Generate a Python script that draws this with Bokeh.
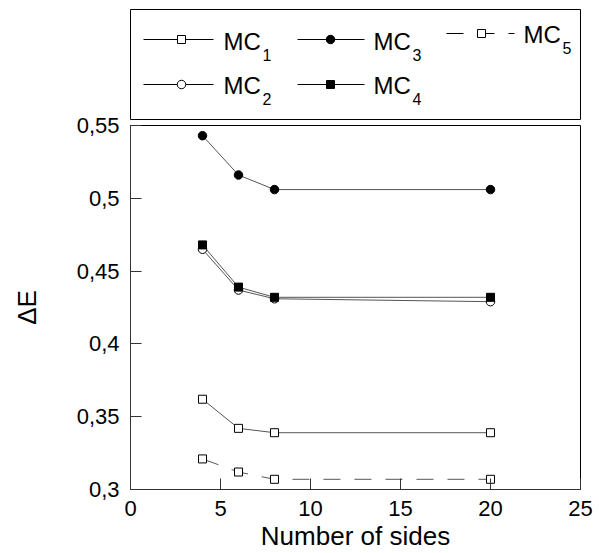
from bokeh.plotting import figure
from bokeh.models import Range1d, FixedTicker
from bokeh.layouts import column
from bokeh.core.properties import value
from bokeh.embed import file_html
from bokeh.resources import INLINE

# ---- data ----
sides = [4, 6, 8, 20]
mc1 = [0.362, 0.342, 0.339, 0.339]
mc2 = [0.465, 0.437, 0.431, 0.429]
mc3 = [0.543, 0.516, 0.506, 0.506]
mc4 = [0.468, 0.439, 0.432, 0.432]
mc5 = [0.321, 0.312, 0.307, 0.307]

series_prefix = "MC"
series_index = ["1", "2", "3", "4", "5"]

x_ticks = [0, 5, 10, 15, 20, 25]
x_tick_labels = ["0", "5", "10", "15", "20", "25"]
y_ticks = [0.3, 0.35, 0.4, 0.45, 0.5, 0.55]
y_tick_labels = ["0,3", "0,35", "0,4", "0,45", "0,5", "0,55"]

x_title = "Number of sides"
y_title = "\u0394E"

FONT = "Liberation Sans"
LINE = "#555555"

series = [
    (mc1, "square", "white", "solid"),
    (mc2, "circle", "white", "solid"),
    (mc3, "circle", "black", "solid"),
    (mc4, "square", "black", "solid"),
    (mc5, "square", "white", "17 14"),
]
msize = {"square": 8, "circle": 8.5}

# ---- main plot ----
p = figure(width=599, height=443, x_range=Range1d(0, 25), y_range=Range1d(0.3, 0.55),
           output_backend="svg", toolbar_location=None,
           min_border_left=130, min_border_right=14, min_border_top=15, min_border_bottom=64)
p.grid.visible = False
p.outline_line_color = "black"
p.outline_line_width = 1
p.background_fill_color = "white"
p.border_fill_alpha = 0

for vals, mk, fill, dash in series:
    p.line(sides, vals, line_color=LINE, line_width=1, line_dash=dash)
    p.scatter(sides, vals, marker=mk, size=msize[mk], fill_color=fill,
              line_color="black", line_width=1)

for ax in (p.xaxis[0], p.yaxis[0]):
    ax.major_tick_in = 11
    ax.major_tick_out = 0
    ax.minor_tick_line_color = None
    ax.axis_line_color = "#333333"
    ax.major_tick_line_color = "#333333"
    ax.major_label_text_font = FONT
    ax.major_label_text_font_size = "22px"
    ax.major_label_text_color = "black"
    ax.major_label_standoff = 11
    ax.axis_label_text_font = FONT
    ax.axis_label_text_font_style = "normal"
    ax.axis_label_text_color = "black"

p.xaxis.ticker = FixedTicker(ticks=x_ticks)
p.xaxis.major_label_overrides = dict(zip(x_ticks, x_tick_labels))
p.yaxis.ticker = FixedTicker(ticks=y_ticks)
p.yaxis.major_label_overrides = dict(zip(y_ticks, y_tick_labels))
p.xaxis.axis_label = x_title
p.yaxis.axis_label = y_title
p.xaxis.axis_label_text_font_size = "26px"
p.yaxis.axis_label_text_font_size = "26px"
p.xaxis.axis_label_standoff = 2
p.yaxis.axis_label_standoff = 32

# ---- legend box (separate panel above the plot) ----
leg = figure(width=599, height=122, x_range=Range1d(130, 580), y_range=Range1d(119, 9),
             x_axis_type=None, y_axis_type=None, output_backend="svg", toolbar_location=None,
             min_border_left=130, min_border_right=19, min_border_top=9, min_border_bottom=3)
leg.grid.visible = False
leg.outline_line_color = "black"
leg.outline_line_width = 1
leg.margin = (0, 0, -12, 0)

# layout of legend entries: (line x0, line x1, marker x, line y, text x, text baseline y)
leg_pos = [
    (143, 213, 181, 39, 223, 41),
    (143, 213, 181, 84, 223, 85),
    (297, 364, 330, 39, 373, 41),
    (297, 364, 330, 84, 373, 85),
    (446, 514, 481, 33, 523, 34),
]
for (vals, mk, fill, dash), (x0, x1, mx, ly, tx, ty), idx in zip(series, leg_pos, series_index):
    leg.line([x0, x1], [ly, ly], line_color="black", line_width=1, line_dash=dash)
    leg.scatter([mx], [ly], marker=mk, size=msize[mk], fill_color=fill,
                line_color="black", line_width=1)
    leg.text([tx], [ty], text=[series_prefix], text_font=value(FONT), text_font_size="24px",
             text_baseline="alphabetic", text_align="left", text_color="black")
    leg.text([tx + 39], [ty + 13], text=[idx], text_font=value(FONT), text_font_size="16px",
             text_baseline="alphabetic", text_align="left", text_color="black")

layout = column(leg, p, spacing=0)
open("out.html", "w").write(file_html(layout, INLINE))
